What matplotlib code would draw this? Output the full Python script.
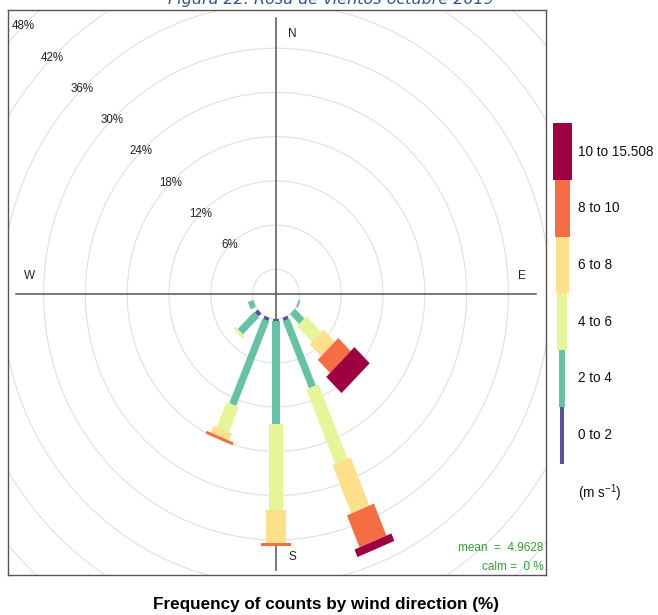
"""Wind rose, octubre 2019 (openair-style paddles)."""
import matplotlib
matplotlib.use('Agg')
import matplotlib.pyplot as plt
from matplotlib.patches import Polygon, Rectangle
import numpy as np

plt.rcParams['font.family'] = ['Liberation Sans', 'DejaVu Sans']

# ── Data (frequency %, per speed bin and direction) ──
wd_dirs = [112.5, 135, 157.5, 180, 202.5, 225, 247.5]
ws_bins = ['0 to 2', '2 to 4', '4 to 6', '6 to 8', '8 to 10', '10 to 15.508']
ws_0_2 = [0.0, 0.0, 0.5, 0.3, 0.5, 0.6, 0.05]
ws_2_4 = [0.25, 1.9, 9.8, 14.0, 12.4, 3.3, 0.75]
ws_4_6 = [0.0, 3.0, 10.9, 11.6, 3.7, 0.4, 0.0]
ws_6_8 = [0.0, 2.3, 7.1, 4.6, 1.0, 0.0, 0.0]
ws_8_10 = [0.0, 2.5, 4.7, 0.4, 0.4, 0.0, 0.0]
ws_10_15 = [0.0, 3.1, 1.1, 0.0, 0.0, 0.0, 0.0]
ring_steps = [0, 6, 12, 18, 24, 30, 36, 42, 48, 54]
mean_ws = 4.9628
calm_pct = 0

# ── Style ──
COLS = ['#5E4FA2', '#66C2A5', '#E6F598', '#FEE08B', '#F46D43', '#9E0142']
PAD_W = [0.77, 1.05, 1.91, 2.79, 4.18, 5.72]     # paddle widths (% units)
LEG_W = [4, 6, 9.4, 13, 15, 19]                   # legend block widths (px)
OFF = 3.35                                        # calm hole radius
GRID = '#E0E0E0'
AXC = '#555555'
TXT = '#222222'
GREEN = '#33A033'

W, H = 658, 615
fig = plt.figure(figsize=(W / 100, H / 100), dpi=100, facecolor='white')

# panel box in pixels: x 8..546, y 10..575 ; centre (276, 294)
ax = fig.add_axes([8 / W, 1 - 575 / H, 538 / W, 565 / H])
ax.set_xlim((8 - 276) / 6.97, (546 - 276) / 6.97)
ax.set_ylim((294 - 575) / 7.37, (294 - 10) / 7.37)
ax.set_xticks([])
ax.set_yticks([])
for sp in ax.spines.values():
    sp.set_color(AXC)
    sp.set_linewidth(1.0)

# rings
t = np.linspace(0, 2 * np.pi, 400)
for s in ring_steps:
    r = OFF + s
    ax.plot(r * np.cos(t), r * np.sin(t), color=GRID, lw=0.8, zorder=1)
for s in ring_steps[1:9]:
    r = OFF + s
    ax.text(-r * np.sin(np.pi / 4), r * np.cos(np.pi / 4), f'{s}%',
            ha='center', va='center', fontsize=8.3, color=TXT, zorder=2)

# cross
ax.plot([0, 0], [-37.45, 37.45], color=AXC, lw=1.1, zorder=2)
ax.plot([-37.3, 37.3], [0, 0], color=AXC, lw=1.1, zorder=2)
ax.text(2.4, 35.3, 'N', ha='center', va='center', fontsize=8.5, color=TXT)
ax.text(2.4, -35.7, 'S', ha='center', va='center', fontsize=8.5, color=TXT)
ax.text(35.3, 2.4, 'E', ha='center', va='center', fontsize=8.5, color=TXT)
ax.text(-35.4, 2.4, 'W', ha='center', va='center', fontsize=8.5, color=TXT)

# paddles
series = [ws_0_2, ws_2_4, ws_4_6, ws_6_8, ws_8_10, ws_10_15]
cum = np.zeros(len(wd_dirs))
for k, vals in enumerate(series):
    vals = np.array(vals)
    for j, wd in enumerate(wd_dirs):
        if vals[j] <= 0:
            continue
        th = np.deg2rad(wd)
        d = np.array([np.sin(th), np.cos(th)])
        p = np.array([np.cos(th), -np.sin(th)])
        r1 = OFF + cum[j]
        r2 = OFF + cum[j] + vals[j]
        hw = PAD_W[k] / 2
        pts = [d * r1 - p * hw, d * r2 - p * hw, d * r2 + p * hw, d * r1 + p * hw]
        ax.add_patch(Polygon(pts, closed=True, facecolor=COLS[k],
                             edgecolor='none', zorder=3))
    cum += vals

ax.text(0.995, 0.048, f'mean  =  {mean_ws}', transform=ax.transAxes,
        ha='right', va='center', fontsize=8.5, color=GREEN)
ax.text(0.995, 0.014, f'calm =  {calm_pct} %', transform=ax.transAxes,
        ha='right', va='center', fontsize=8.5, color=GREEN)

# legend (pixel overlay)
lax = fig.add_axes([0, 0, 1, 1])
lax.set_xlim(0, W)
lax.set_ylim(H, 0)
lax.axis('off')
top, step = 123.3, 56.7
for k in range(len(ws_bins)):
    i = len(ws_bins) - 1 - k           # top = highest bin
    y0 = top + k * step
    lax.add_patch(Rectangle((562 - LEG_W[i] / 2, y0), LEG_W[i], step,
                            facecolor=COLS[i], edgecolor='none'))
    lax.text(578, y0 + step / 2, ws_bins[i], ha='left', va='center',
             fontsize=9.8, color='#111111')
lax.text(578, 493, r'(m s$^{\mathregular{-1}}$)', ha='left', va='center',
         fontsize=9.8, color='#111111')

# titles
fig.text(0.495, 1 - 604 / H, 'Frequency of counts by wind direction (%)',
         ha='center', va='center', fontsize=12.3, fontweight='bold')
fig.text(331 / W, 1 - 4 / H, 'Figura 22. Rosa de vientos octubre 2019',
         ha='center', va='baseline', fontsize=11.5, style='italic',
         color='#2F5496', family='DejaVu Sans')

fig.savefig('out.png', dpi=100, facecolor='white')
plt.close()
